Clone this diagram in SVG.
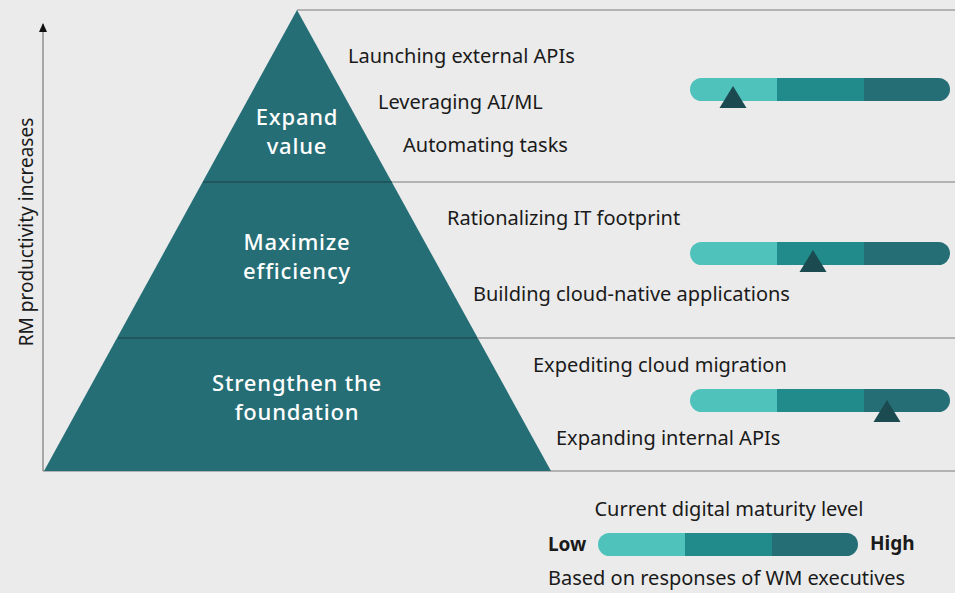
<svg xmlns="http://www.w3.org/2000/svg" width="955" height="593" viewBox="0 0 955 593">
<defs>
<style>
.t{font-family:"Noto Sans","Open Sans",sans-serif;font-size:20px;fill:#1a1a1a}
.w{font-family:"Noto Sans","Open Sans",sans-serif;font-size:22px;letter-spacing:0.8px;fill:#fff;font-weight:500;text-anchor:middle}
.b{font-family:"Noto Sans","Open Sans",sans-serif;font-size:19px;fill:#1a1a1a;font-weight:bold}
.l1{fill:#4FC2BC}.l2{fill:#218A8B}.l3{fill:#256E76}
.mk{fill:#1B4A50}
.ln{stroke:#7a7a7a;stroke-width:1.2;fill:none}
</style>
<clipPath id="bar"><rect x="0" y="0" width="260" height="23" rx="11.5"/></clipPath>
<g id="scale">
<g clip-path="url(#bar)">
<rect class="l1" x="0" y="0" width="87" height="23"/>
<rect class="l2" x="87" y="0" width="87" height="23"/>
<rect class="l3" x="174" y="0" width="86" height="23"/>
</g>
</g>
<marker id="ah" markerWidth="10" markerHeight="10" refX="8" refY="5" orient="auto" markerUnits="userSpaceOnUse"><path d="M0,1 L9,5 L0,9 Z" fill="#111"/></marker>
</defs>
<rect width="955" height="593" fill="#EBEBEB"/>
<g id="connectors">
<line class="ln" x1="297" y1="10" x2="955" y2="10"/>
<line class="ln" x1="43" y1="471" x2="43" y2="24" marker-end="url(#ah)"/>
<line class="ln" x1="43" y1="471" x2="955" y2="471"/>
</g>
<g id="pyramid">
<polygon points="297,10 551,471 44,471" fill="#266E76"/>
<line x1="203" y1="182" x2="392" y2="182" stroke="#1D4F55" stroke-width="1.5"/>
<line x1="392" y1="182" x2="955" y2="182" class="ln"/>
<line x1="118" y1="338" x2="477" y2="338" stroke="#1D4F55" stroke-width="1.5"/>
<line x1="477" y1="338" x2="955" y2="338" class="ln"/>
</g>
<g id="tier-expand">
<text class="w" x="297" y="125">Expand</text>
<text class="w" x="297" y="154">value</text>
<text class="t" x="348" y="63">Launching external APIs</text>
<text class="t" x="378" y="109">Leveraging AI/ML</text>
<text class="t" x="403" y="152">Automating tasks</text>
<use href="#scale" x="690" y="78"/>
<polygon class="mk" points="733,86 746.5,108 719.5,108"/>
</g>
<g id="tier-maximize">
<text class="w" x="297" y="250">Maximize</text>
<text class="w" x="297" y="279">efficiency</text>
<text class="t" x="447" y="225">Rationalizing IT footprint</text>
<text class="t" x="473" y="301">Building cloud-native applications</text>
<use href="#scale" x="690" y="242"/>
<polygon class="mk" points="813,250 826.5,272 799.5,272"/>
</g>
<g id="tier-strengthen">
<text class="w" x="297" y="391">Strengthen the</text>
<text class="w" x="297" y="420">foundation</text>
<text class="t" x="533" y="372">Expediting cloud migration</text>
<text class="t" x="556" y="445">Expanding internal APIs</text>
<use href="#scale" x="690" y="389"/>
<polygon class="mk" points="887,400 900.5,422 873.5,422"/>
</g>
<g id="axis-label">
<text class="t" style="font-size:19px" transform="translate(33,232) rotate(-90)" text-anchor="middle">RM productivity increases</text>
</g>
<g id="legend">
<text class="t" x="729" y="516" text-anchor="middle">Current digital maturity level</text>
<text class="b" x="548" y="551">Low</text>
<use href="#scale" x="598" y="533"/>
<text class="b" x="870" y="550">High</text>
<text class="t" x="548" y="585">Based on responses of WM executives</text>
</g>
</svg>
